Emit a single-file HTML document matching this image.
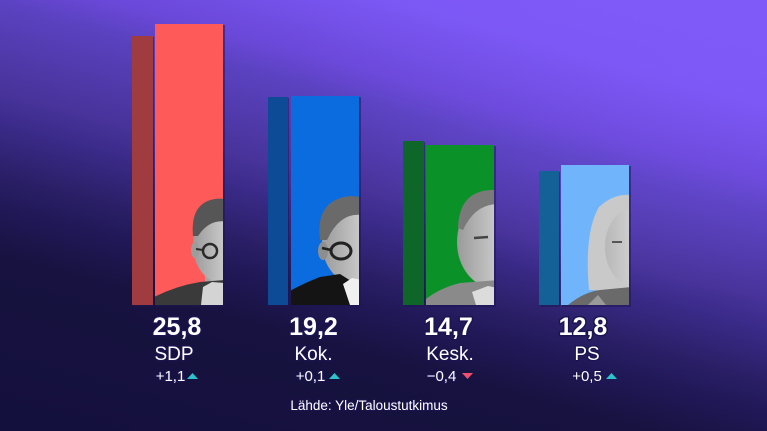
<!DOCTYPE html>
<html>
<head>
<meta charset="utf-8">
<style>
  html, body { margin:0; padding:0; }
  body { width:767px; height:431px; overflow:hidden; }
  #bg {
    position:absolute; left:0; top:0; width:767px; height:431px;
    background:
      radial-gradient(ellipse 420px 260px at 720px 40px, rgba(132,92,252,0.35), rgba(132,92,252,0) 100%),
      linear-gradient(195deg, #7f5af8 0%, #7b57f4 16%, #6a48d8 28%, #5a42c0 33%, #473399 47%, #3a2a88 52%, #2a1f66 60%, #22195a 64%, #17123f 73%, #14103d 100%);
  }
  svg { position:absolute; left:0; top:0; }
  text { font-family:"Liberation Sans", sans-serif; fill:#fff; paint-order:stroke; stroke:#1a1450; stroke-linejoin:round; }
</style>
</head>
<body>
<div id="bg"></div>
<svg width="767" height="431" viewBox="0 0 767 431" xmlns="http://www.w3.org/2000/svg">
  <defs>
    <clipPath id="c1"><rect x="155" y="24" width="68" height="281"/></clipPath>
    <clipPath id="c2"><rect x="291" y="96" width="68" height="209"/></clipPath>
    <clipPath id="c3"><rect x="426" y="145" width="68" height="160"/></clipPath>
    <clipPath id="c4"><rect x="561" y="165" width="68" height="140"/></clipPath>
    <linearGradient id="face" x1="0" y1="0" x2="1" y2="0">
      <stop offset="0" stop-color="#9a9a9a"/>
      <stop offset="0.5" stop-color="#c6c6c6"/>
      <stop offset="1" stop-color="#d8d8d8"/>
    </linearGradient>
    <linearGradient id="faceL" x1="0" y1="0" x2="1" y2="0">
      <stop offset="0" stop-color="#b8b8b8"/>
      <stop offset="1" stop-color="#e4e4e4"/>
    </linearGradient>
  </defs>

  <!-- bar shadows (right/bottom) -->
  <g fill="#1c1552" opacity="0.5">
    <rect x="133" y="37" width="21" height="270"/>
    <rect x="156" y="25" width="69" height="282"/>
    <rect x="269" y="98" width="20" height="209"/>
    <rect x="292" y="97" width="69" height="210"/>
    <rect x="404" y="142" width="21" height="165"/>
    <rect x="427" y="146" width="69" height="161"/>
    <rect x="540" y="172" width="20" height="135"/>
    <rect x="562" y="166" width="69" height="141"/>
  </g>

  <!-- bars -->
  <rect x="132" y="36" width="21" height="269" fill="#a03c40"/>
  <rect x="155" y="24" width="68" height="281" fill="#fe5a5a"/>
  <rect x="268" y="97" width="20" height="208" fill="#0e4b97"/>
  <rect x="291" y="96" width="68" height="209" fill="#0b6ce0"/>
  <rect x="403" y="141" width="21" height="164" fill="#0e6629"/>
  <rect x="426" y="145" width="68" height="160" fill="#0a9229"/>
  <rect x="539" y="171" width="20" height="134" fill="#136196"/>
  <rect x="561" y="165" width="68" height="140" fill="#70b5fb"/>

  <!-- SDP person -->
  <g clip-path="url(#c1)">
    <rect x="205" y="262" width="20" height="28" fill="#a4a4a4"/>
    <ellipse cx="222" cy="245" rx="29" ry="38" fill="url(#face)"/>
    <ellipse cx="195" cy="250" rx="4" ry="8" fill="#9c9c9c"/>
    <path d="M193,236 Q190,203 215,199 Q223,198 228,200 L228,222 Q210,218 198,236 Z" fill="#565656"/>
    <circle cx="210" cy="251" r="7" fill="none" stroke="#2a2a2a" stroke-width="2.5"/>
    <line x1="196" y1="249" x2="203" y2="250" stroke="#2a2a2a" stroke-width="2"/>
    <path d="M150,305 L150,299 Q175,286 200,282 L225,280 L225,305 Z" fill="#3a3a3a"/>
    <path d="M203,287 L212,282 L225,283 L225,305 L201,305 Z" fill="#d4d4d4"/>
  </g>

  <!-- Kok person -->
  <g clip-path="url(#c2)">
    <ellipse cx="358" cy="243" rx="36" ry="42" fill="url(#face)"/>
    <ellipse cx="323" cy="251" rx="5" ry="9" fill="#8e8e8e"/>
    <path d="M320,240 Q315,200 350,196 L362,197 L362,215 Q340,212 327,240 Z" fill="#6a6a6a"/>
    <ellipse cx="341" cy="251" rx="10" ry="8" fill="none" stroke="#222" stroke-width="3"/>
    <line x1="322" y1="248" x2="331" y2="250" stroke="#222" stroke-width="2.5"/>
    <path d="M286,305 L288,292 Q302,284 320,277 L340,274 L362,288 L362,305 Z" fill="#141414"/>
    <path d="M343,284 L352,278 L362,280 L362,305 L350,305 Z" fill="#f0f0f0"/>
  </g>

  <!-- Kesk person -->
  <g clip-path="url(#c3)">
    <ellipse cx="494" cy="242" rx="37" ry="46" fill="url(#face)"/>
    <path d="M458,228 Q459,192 490,190 L498,190 L498,204 Q475,204 463,230 Z" fill="#7a7a7a"/>
    <line x1="474" y1="238" x2="488" y2="237" stroke="#444" stroke-width="2.5"/>
    <path d="M422,305 L426,299 Q440,288 460,283 L498,280 L498,305 Z" fill="#8a8a8a"/>
    <path d="M472,292 L488,286 L498,288 L498,305 L476,305 Z" fill="#dcdcdc"/>
  </g>

  <!-- PS person -->
  <g clip-path="url(#c4)">
    <path d="M589,290 Q584,232 599,207 Q614,193 632,195 L632,292 Z" fill="#c9c9c9"/>
    <ellipse cx="630" cy="247" rx="25" ry="37" fill="url(#faceL)"/>
    <line x1="612" y1="242" x2="622" y2="242" stroke="#555" stroke-width="2"/>
    <path d="M568,305 Q584,292 600,290 L632,287 L632,305 Z" fill="#6a6a6a"/>
    <path d="M588,305 L598,295 L606,305 Z" fill="#9a9a9a"/>
  </g>

  <!-- values -->
  <g font-weight="bold" font-size="25" stroke-width="3" text-anchor="middle">
    <text x="177" y="335">25,8</text>
    <text x="313.5" y="335">19,2</text>
    <text x="448.5" y="335">14,7</text>
    <text x="583" y="335">12,8</text>
  </g>
  <!-- names -->
  <g font-size="19" stroke-width="2.5" text-anchor="middle">
    <text x="174" y="360">SDP</text>
    <text x="313.5" y="360">Kok.</text>
    <text x="450" y="360">Kesk.</text>
    <text x="587" y="360">PS</text>
  </g>
  <!-- changes -->
  <g font-size="15" stroke-width="2.5" text-anchor="middle">
    <text x="170.5" y="381">+1,1</text>
    <text x="310.5" y="381">+0,1</text>
    <text x="441.5" y="381">−0,4</text>
    <text x="587" y="381">+0,5</text>
  </g>
  <polygon points="187,379 198,379 192.5,373" fill="#2cc3cc"/>
  <polygon points="329,379 340,379 334.5,373" fill="#2cc3cc"/>
  <polygon points="462,373 473,373 467.5,379" fill="#f0506e"/>
  <polygon points="606,379 617,379 611.5,373" fill="#2cc3cc"/>

  <!-- source -->
  <text x="369" y="410" font-size="13.5" stroke-width="2" text-anchor="middle">Lähde: Yle/Taloustutkimus</text>
</svg>
</body>
</html>
